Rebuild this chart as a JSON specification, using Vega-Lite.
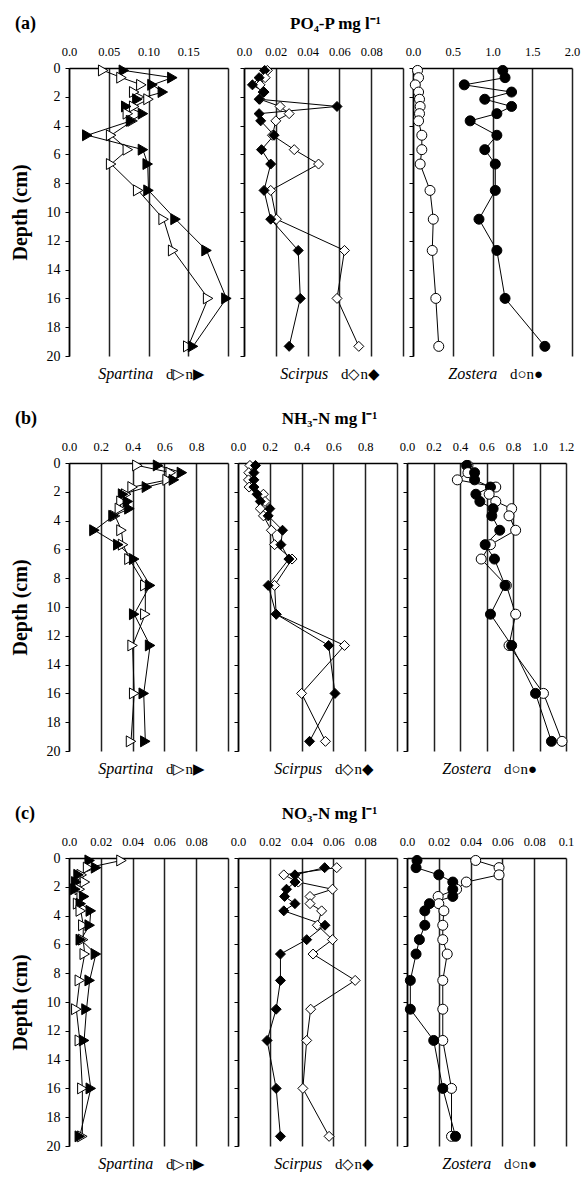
{
 "$schema": "https://vega.github.io/schema/vega-lite/v6.json",
 "background": "white",
 "padding": {"left": 10, "top": 15, "right": 3, "bottom": 0},
 "config": {
  "view": {"stroke": null},
  "font": "Liberation Serif",
  "axisX": {"grid": true, "gridColor": "#222", "gridWidth": 1.5, "domainColor": "black", "domainWidth": 1.5, "ticks": false, "labelPadding": 10, "labelFont": "Liberation Serif", "labelFontSize": 12.5, "labelColor": "black", "labelFlush": false, "labelOverlap": false},
  "axisY": {"grid": false, "domainColor": "black", "domainWidth": 1.5, "tickColor": "black", "tickSize": 4, "tickWidth": 1, "labelFont": "Liberation Serif", "labelFontSize": 14, "labelColor": "black", "labelPadding": 5, "titleFont": "Liberation Serif", "titleFontSize": 20, "titleFontWeight": "bold", "titleColor": "black", "titlePadding": 16, "labelFlush": false},
  "title": {"font": "Liberation Serif", "fontWeight": "bold", "color": "black", "offset": 12}
 },
 "datasets": {
  "all": [
   {"nut":"PO4","sp":"Spartina","depth":0.17,"d":0.043,"n":0.069},
   {"nut":"PO4","sp":"Spartina","depth":0.67,"d":0.066,"n":0.130},
   {"nut":"PO4","sp":"Spartina","depth":1.17,"d":0.091,"n":0.105},
   {"nut":"PO4","sp":"Spartina","depth":1.67,"d":0.082,"n":0.118},
   {"nut":"PO4","sp":"Spartina","depth":2.17,"d":0.100,"n":0.086},
   {"nut":"PO4","sp":"Spartina","depth":2.67,"d":0.082,"n":0.072},
   {"nut":"PO4","sp":"Spartina","depth":3.17,"d":0.074,"n":0.093},
   {"nut":"PO4","sp":"Spartina","depth":3.67,"d":0.080,"n":0.078},
   {"nut":"PO4","sp":"Spartina","depth":4.67,"d":0.053,"n":0.023},
   {"nut":"PO4","sp":"Spartina","depth":5.67,"d":0.074,"n":0.093},
   {"nut":"PO4","sp":"Spartina","depth":6.67,"d":0.053,"n":0.099},
   {"nut":"PO4","sp":"Spartina","depth":8.5,"d":0.087,"n":0.100},
   {"nut":"PO4","sp":"Spartina","depth":10.5,"d":0.119,"n":0.134},
   {"nut":"PO4","sp":"Spartina","depth":12.67,"d":0.131,"n":0.173},
   {"nut":"PO4","sp":"Spartina","depth":16,"d":0.175,"n":0.198},
   {"nut":"PO4","sp":"Spartina","depth":19.33,"d":0.150,"n":0.156},
   {"nut":"PO4","sp":"Scirpus","depth":0.17,"d":0.0147,"n":0.013},
   {"nut":"PO4","sp":"Scirpus","depth":0.67,"d":0.0133,"n":0.0095},
   {"nut":"PO4","sp":"Scirpus","depth":1.17,"d":0.0101,"n":0.0053},
   {"nut":"PO4","sp":"Scirpus","depth":1.67,"d":0.012,"n":0.0126},
   {"nut":"PO4","sp":"Scirpus","depth":2.17,"d":0.010,"n":0.0095},
   {"nut":"PO4","sp":"Scirpus","depth":2.67,"d":0.0227,"n":0.0585},
   {"nut":"PO4","sp":"Scirpus","depth":3.17,"d":0.0284,"n":0.0095},
   {"nut":"PO4","sp":"Scirpus","depth":3.67,"d":0.0200,"n":0.0105},
   {"nut":"PO4","sp":"Scirpus","depth":4.67,"d":0.0179,"n":0.0189},
   {"nut":"PO4","sp":"Scirpus","depth":5.67,"d":0.0316,"n":0.0110},
   {"nut":"PO4","sp":"Scirpus","depth":6.67,"d":0.0469,"n":0.0168},
   {"nut":"PO4","sp":"Scirpus","depth":8.5,"d":0.0168,"n":0.0126},
   {"nut":"PO4","sp":"Scirpus","depth":10.5,"d":0.0204,"n":0.0168},
   {"nut":"PO4","sp":"Scirpus","depth":12.67,"d":0.0632,"n":0.0341},
   {"nut":"PO4","sp":"Scirpus","depth":16,"d":0.0585,"n":0.0354},
   {"nut":"PO4","sp":"Scirpus","depth":19.33,"d":0.0722,"n":0.0284},
   {"nut":"PO4","sp":"Zostera","depth":0.17,"d":0.057,"n":1.129},
   {"nut":"PO4","sp":"Zostera","depth":0.67,"d":0.07,"n":1.158},
   {"nut":"PO4","sp":"Zostera","depth":1.17,"d":0.029,"n":0.645},
   {"nut":"PO4","sp":"Zostera","depth":1.67,"d":0.07,"n":1.24},
   {"nut":"PO4","sp":"Zostera","depth":2.17,"d":0.082,"n":0.903},
   {"nut":"PO4","sp":"Zostera","depth":2.67,"d":0.09,"n":1.24},
   {"nut":"PO4","sp":"Zostera","depth":3.17,"d":0.082,"n":1.055},
   {"nut":"PO4","sp":"Zostera","depth":3.67,"d":0.07,"n":0.719},
   {"nut":"PO4","sp":"Zostera","depth":4.67,"d":0.111,"n":1.055},
   {"nut":"PO4","sp":"Zostera","depth":5.67,"d":0.111,"n":0.903},
   {"nut":"PO4","sp":"Zostera","depth":6.67,"d":0.09,"n":1.035},
   {"nut":"PO4","sp":"Zostera","depth":8.5,"d":0.214,"n":1.035},
   {"nut":"PO4","sp":"Zostera","depth":10.5,"d":0.255,"n":0.83},
   {"nut":"PO4","sp":"Zostera","depth":12.67,"d":0.242,"n":1.055},
   {"nut":"PO4","sp":"Zostera","depth":16,"d":0.287,"n":1.158},
   {"nut":"PO4","sp":"Zostera","depth":19.33,"d":0.324,"n":1.659},
   {"nut":"NH3","sp":"Spartina","depth":0.17,"d":0.43,"n":0.56},
   {"nut":"NH3","sp":"Spartina","depth":0.67,"d":0.64,"n":0.71},
   {"nut":"NH3","sp":"Spartina","depth":1.17,"d":0.62,"n":0.66},
   {"nut":"NH3","sp":"Spartina","depth":1.67,"d":0.40,"n":0.49},
   {"nut":"NH3","sp":"Spartina","depth":2.17,"d":0.36,"n":0.34},
   {"nut":"NH3","sp":"Spartina","depth":2.67,"d":0.33,"n":0.37},
   {"nut":"NH3","sp":"Spartina","depth":3.17,"d":0.32,"n":0.38},
   {"nut":"NH3","sp":"Spartina","depth":3.67,"d":0.29,"n":0.28},
   {"nut":"NH3","sp":"Spartina","depth":4.67,"d":0.33,"n":0.16},
   {"nut":"NH3","sp":"Spartina","depth":5.67,"d":0.34,"n":0.31},
   {"nut":"NH3","sp":"Spartina","depth":6.67,"d":0.38,"n":0.41},
   {"nut":"NH3","sp":"Spartina","depth":8.5,"d":0.48,"n":0.51},
   {"nut":"NH3","sp":"Spartina","depth":10.5,"d":0.48,"n":0.41},
   {"nut":"NH3","sp":"Spartina","depth":12.67,"d":0.40,"n":0.51},
   {"nut":"NH3","sp":"Spartina","depth":16,"d":0.41,"n":0.47},
   {"nut":"NH3","sp":"Spartina","depth":19.33,"d":0.39,"n":0.48},
   {"nut":"NH3","sp":"Scirpus","depth":0.17,"d":0.075,"n":0.11},
   {"nut":"NH3","sp":"Scirpus","depth":0.67,"d":0.068,"n":0.10},
   {"nut":"NH3","sp":"Scirpus","depth":1.17,"d":0.066,"n":0.10},
   {"nut":"NH3","sp":"Scirpus","depth":1.67,"d":0.07,"n":0.10},
   {"nut":"NH3","sp":"Scirpus","depth":2.17,"d":0.16,"n":0.12},
   {"nut":"NH3","sp":"Scirpus","depth":2.67,"d":0.17,"n":0.14},
   {"nut":"NH3","sp":"Scirpus","depth":3.17,"d":0.14,"n":0.20},
   {"nut":"NH3","sp":"Scirpus","depth":3.67,"d":0.16,"n":0.19},
   {"nut":"NH3","sp":"Scirpus","depth":4.67,"d":0.21,"n":0.28},
   {"nut":"NH3","sp":"Scirpus","depth":5.67,"d":0.23,"n":0.27},
   {"nut":"NH3","sp":"Scirpus","depth":6.67,"d":0.34,"n":0.32},
   {"nut":"NH3","sp":"Scirpus","depth":8.5,"d":0.23,"n":0.19},
   {"nut":"NH3","sp":"Scirpus","depth":10.5,"d":0.24,"n":0.24},
   {"nut":"NH3","sp":"Scirpus","depth":12.67,"d":0.67,"n":0.57},
   {"nut":"NH3","sp":"Scirpus","depth":16,"d":0.40,"n":0.61},
   {"nut":"NH3","sp":"Scirpus","depth":19.33,"d":0.55,"n":0.45},
   {"nut":"NH3","sp":"Zostera","depth":0.17,"d":0.46,"n":0.45},
   {"nut":"NH3","sp":"Zostera","depth":0.67,"d":0.46,"n":0.51},
   {"nut":"NH3","sp":"Zostera","depth":1.17,"d":0.38,"n":0.51},
   {"nut":"NH3","sp":"Zostera","depth":1.67,"d":0.67,"n":0.63},
   {"nut":"NH3","sp":"Zostera","depth":2.17,"d":0.62,"n":0.52},
   {"nut":"NH3","sp":"Zostera","depth":2.67,"d":0.67,"n":0.55},
   {"nut":"NH3","sp":"Zostera","depth":3.17,"d":0.79,"n":0.65},
   {"nut":"NH3","sp":"Zostera","depth":3.67,"d":0.77,"n":0.64},
   {"nut":"NH3","sp":"Zostera","depth":4.67,"d":0.82,"n":0.70},
   {"nut":"NH3","sp":"Zostera","depth":5.67,"d":0.63,"n":0.59},
   {"nut":"NH3","sp":"Zostera","depth":6.67,"d":0.56,"n":0.66},
   {"nut":"NH3","sp":"Zostera","depth":8.5,"d":0.75,"n":0.74},
   {"nut":"NH3","sp":"Zostera","depth":10.5,"d":0.82,"n":0.63},
   {"nut":"NH3","sp":"Zostera","depth":12.67,"d":0.77,"n":0.79},
   {"nut":"NH3","sp":"Zostera","depth":16,"d":1.03,"n":0.97},
   {"nut":"NH3","sp":"Zostera","depth":19.33,"d":1.17,"n":1.09},
   {"nut":"NO3","sp":"Spartina","depth":0.17,"d":0.033,"n":0.013},
   {"nut":"NO3","sp":"Spartina","depth":0.67,"d":0.012,"n":0.017},
   {"nut":"NO3","sp":"Spartina","depth":1.17,"d":0.008,"n":0.006},
   {"nut":"NO3","sp":"Spartina","depth":1.67,"d":0.010,"n":0.0046},
   {"nut":"NO3","sp":"Spartina","depth":2.17,"d":0.0068,"n":0.004},
   {"nut":"NO3","sp":"Spartina","depth":2.67,"d":0.008,"n":0.0095},
   {"nut":"NO3","sp":"Spartina","depth":3.17,"d":0.0057,"n":0.0074},
   {"nut":"NO3","sp":"Spartina","depth":3.67,"d":0.0074,"n":0.0137},
   {"nut":"NO3","sp":"Spartina","depth":4.67,"d":0.009,"n":0.013},
   {"nut":"NO3","sp":"Spartina","depth":5.67,"d":0.0089,"n":0.0074},
   {"nut":"NO3","sp":"Spartina","depth":6.67,"d":0.0099,"n":0.0169},
   {"nut":"NO3","sp":"Spartina","depth":8.5,"d":0.0068,"n":0.013},
   {"nut":"NO3","sp":"Spartina","depth":10.5,"d":0.0046,"n":0.011},
   {"nut":"NO3","sp":"Spartina","depth":12.67,"d":0.0068,"n":0.0095},
   {"nut":"NO3","sp":"Spartina","depth":16,"d":0.0084,"n":0.0137},
   {"nut":"NO3","sp":"Spartina","depth":19.33,"d":0.0084,"n":0.0068},
   {"nut":"NO3","sp":"Scirpus","depth":0.67,"d":0.0621,"n":0.0545},
   {"nut":"NO3","sp":"Scirpus","depth":1.17,"d":0.0288,"n":0.0358},
   {"nut":"NO3","sp":"Scirpus","depth":1.67,"d":0.0379,"n":0.0358},
   {"nut":"NO3","sp":"Scirpus","depth":2.17,"d":0.0594,"n":0.0305},
   {"nut":"NO3","sp":"Scirpus","depth":2.67,"d":0.0453,"n":0.0293},
   {"nut":"NO3","sp":"Scirpus","depth":3.17,"d":0.0453,"n":0.0358},
   {"nut":"NO3","sp":"Scirpus","depth":3.67,"d":0.0526,"n":0.0288},
   {"nut":"NO3","sp":"Scirpus","depth":4.67,"d":0.0499,"n":0.0547},
   {"nut":"NO3","sp":"Scirpus","depth":5.67,"d":0.0594,"n":0.0432},
   {"nut":"NO3","sp":"Scirpus","depth":6.67,"d":0.0472,"n":0.0267},
   {"nut":"NO3","sp":"Scirpus","depth":8.5,"d":0.0737,"n":0.0267},
   {"nut":"NO3","sp":"Scirpus","depth":10.5,"d":0.0457,"n":0.024},
   {"nut":"NO3","sp":"Scirpus","depth":12.67,"d":0.0432,"n":0.0183},
   {"nut":"NO3","sp":"Scirpus","depth":16,"d":0.0408,"n":0.024},
   {"nut":"NO3","sp":"Scirpus","depth":19.33,"d":0.0573,"n":0.0267},
   {"nut":"NO3","sp":"Zostera","depth":0.17,"d":0.0432,"n":0.0063},
   {"nut":"NO3","sp":"Zostera","depth":0.67,"d":0.0579,"n":0.0057},
   {"nut":"NO3","sp":"Zostera","depth":1.17,"d":0.0579,"n":0.020},
   {"nut":"NO3","sp":"Zostera","depth":1.67,"d":0.0373,"n":0.0288},
   {"nut":"NO3","sp":"Zostera","depth":2.17,"d":0.0312,"n":0.0288},
   {"nut":"NO3","sp":"Zostera","depth":2.67,"d":0.0196,"n":0.0288},
   {"nut":"NO3","sp":"Zostera","depth":3.17,"d":0.020,"n":0.0141},
   {"nut":"NO3","sp":"Zostera","depth":3.67,"d":0.0232,"n":0.0112},
   {"nut":"NO3","sp":"Zostera","depth":4.67,"d":0.0225,"n":0.0112},
   {"nut":"NO3","sp":"Zostera","depth":5.67,"d":0.0225,"n":0.0078},
   {"nut":"NO3","sp":"Zostera","depth":6.67,"d":0.0253,"n":0.0057},
   {"nut":"NO3","sp":"Zostera","depth":8.5,"d":0.0225,"n":0.0021},
   {"nut":"NO3","sp":"Zostera","depth":10.5,"d":0.0225,"n":0.0021},
   {"nut":"NO3","sp":"Zostera","depth":12.67,"d":0.0225,"n":0.0168},
   {"nut":"NO3","sp":"Zostera","depth":16,"d":0.028,"n":0.0225},
   {"nut":"NO3","sp":"Zostera","depth":19.33,"d":0.028,"n":0.0305}
  ]
 },
 "data": {"name": "all"},
 "spacing": 28,
 "vconcat": [
  {"spacing": 2, "hconcat": [
   {"width": 159, "height": 288,
    "title": {"text": "(a)", "anchor": "start", "frame": "group", "dx": -54, "fontSize": 18},
    "resolve": {"axis": {"x": "independent", "y": "independent"}},
    "layer": [
     {"transform": [{"filter": "datum.nut=='PO4' && datum.sp=='Spartina'"}, {"fold": ["d","n"], "as": ["t","v"]}],
      "encoding": {
       "x": {"field": "v", "type": "quantitative", "scale": {"domain": [0,0.2], "nice": false}, "axis": {"orient": "top", "title": null, "values": [0,0.05,0.1,0.15,0.2], "labelExpr": "datum.value==0 ? '0.0' : datum.value>0.19 ? '' : format(datum.value,'.2f')"}},
       "y": {"field": "depth", "type": "quantitative", "scale": {"domain": [0,20], "reverse": true, "nice": false}, "axis": {"title": "Depth (cm)", "values": [0,2,4,6,8,10,12,14,16,18,20]}}
      },
      "layer": [
       {"mark": {"type": "line", "color": "black", "strokeWidth": 1}, "encoding": {"detail": {"field": "t"}, "order": {"field": "depth", "type": "quantitative"}}},
       {"mark": {"type": "point", "shape": "triangle-right", "size": 120, "filled": true, "stroke": "black", "strokeWidth": 1, "opacity": 1}, "encoding": {"fill": {"field": "t", "type": "nominal", "scale": {"domain": ["d","n"], "range": ["white","black"]}, "legend": null}}}
      ]},
     {"data": {"values": [{"lab": "Spartina"}]}, "mark": {"type": "text", "fontStyle": "italic", "fontSize": 16, "align": "right", "baseline": "middle"}, "encoding": {"x": {"datum": 0.106, "axis": null}, "y": {"datum": 21.25, "axis": null}, "text": {"field": "lab"}}},
     {"data": {"values": [{"lab": "d▷n▶"}]}, "mark": {"type": "text", "fontSize": 15, "align": "left", "baseline": "middle"}, "encoding": {"x": {"datum": 0.122, "axis": null}, "y": {"datum": 21.25, "axis": null}, "text": {"field": "lab"}}}
    ]},
   {"width": 159, "height": 288,
    "title": {"text": "PO₄-P mg l⁻¹", "anchor": "middle", "dx": 12, "fontSize": 17},
    "resolve": {"axis": {"x": "independent", "y": "independent"}},
    "layer": [
     {"transform": [{"filter": "datum.nut=='PO4' && datum.sp=='Scirpus'"}, {"fold": ["d","n"], "as": ["t","v"]}],
      "encoding": {
       "x": {"field": "v", "type": "quantitative", "scale": {"domain": [0,0.1], "nice": false}, "axis": {"orient": "top", "title": null, "values": [0,0.02,0.04,0.06,0.08,0.1], "labelExpr": "datum.value==0 ? '0.0' : datum.value>0.09 ? '' : format(datum.value,'.2f')"}},
       "y": {"field": "depth", "type": "quantitative", "scale": {"domain": [0,20], "reverse": true, "nice": false}, "axis": {"title": null, "labels": false, "values": [0,2,4,6,8,10,12,14,16,18,20]}}
      },
      "layer": [
       {"mark": {"type": "line", "color": "black", "strokeWidth": 1}, "encoding": {"detail": {"field": "t"}, "order": {"field": "depth", "type": "quantitative"}}},
       {"mark": {"type": "point", "shape": "diamond", "size": 100, "filled": true, "stroke": "black", "strokeWidth": 1, "opacity": 1}, "encoding": {"fill": {"field": "t", "type": "nominal", "scale": {"domain": ["d","n"], "range": ["white","black"]}, "legend": null}}}
      ]},
     {"data": {"values": [{"lab": "Scirpus"}]}, "mark": {"type": "text", "fontStyle": "italic", "fontSize": 16, "align": "right", "baseline": "middle"}, "encoding": {"x": {"datum": 0.053, "axis": null}, "y": {"datum": 21.25, "axis": null}, "text": {"field": "lab"}}},
     {"data": {"values": [{"lab": "d◇n◆"}]}, "mark": {"type": "text", "fontSize": 15, "align": "left", "baseline": "middle"}, "encoding": {"x": {"datum": 0.061, "axis": null}, "y": {"datum": 21.25, "axis": null}, "text": {"field": "lab"}}}
    ]},
   {"width": 159, "height": 288,
    "resolve": {"axis": {"x": "independent", "y": "independent"}},
    "layer": [
     {"transform": [{"filter": "datum.nut=='PO4' && datum.sp=='Zostera'"}, {"fold": ["d","n"], "as": ["t","v"]}],
      "encoding": {
       "x": {"field": "v", "type": "quantitative", "scale": {"domain": [0,2], "nice": false}, "axis": {"orient": "top", "title": null, "values": [0,0.5,1,1.5,2], "labelExpr": "format(datum.value,'.1f')"}},
       "y": {"field": "depth", "type": "quantitative", "scale": {"domain": [0,20], "reverse": true, "nice": false}, "axis": {"title": null, "labels": false, "values": [0,2,4,6,8,10,12,14,16,18,20]}}
      },
      "layer": [
       {"mark": {"type": "line", "color": "black", "strokeWidth": 1}, "encoding": {"detail": {"field": "t"}, "order": {"field": "depth", "type": "quantitative"}}},
       {"mark": {"type": "point", "shape": "circle", "size": 100, "filled": true, "stroke": "black", "strokeWidth": 1, "opacity": 1}, "encoding": {"fill": {"field": "t", "type": "nominal", "scale": {"domain": ["d","n"], "range": ["white","black"]}, "legend": null}}}
      ]},
     {"data": {"values": [{"lab": "Zostera"}]}, "mark": {"type": "text", "fontStyle": "italic", "fontSize": 16, "align": "right", "baseline": "middle"}, "encoding": {"x": {"datum": 1.06, "axis": null}, "y": {"datum": 21.25, "axis": null}, "text": {"field": "lab"}}},
     {"data": {"values": [{"lab": "d○n●"}]}, "mark": {"type": "text", "fontSize": 15, "align": "left", "baseline": "middle"}, "encoding": {"x": {"datum": 1.22, "axis": null}, "y": {"datum": 21.25, "axis": null}, "text": {"field": "lab"}}}
    ]}
  ]},
  {"spacing": 2, "hconcat": [
   {"width": 159, "height": 288,
    "title": {"text": "(b)", "anchor": "start", "frame": "group", "dx": -54, "fontSize": 18},
    "resolve": {"axis": {"x": "independent", "y": "independent"}},
    "layer": [
     {"transform": [{"filter": "datum.nut=='NH3' && datum.sp=='Spartina'"}, {"fold": ["d","n"], "as": ["t","v"]}],
      "encoding": {
       "x": {"field": "v", "type": "quantitative", "scale": {"domain": [0,1], "nice": false}, "axis": {"orient": "top", "title": null, "values": [0,0.2,0.4,0.6,0.8,1], "labelExpr": "datum.value>0.9 ? '' : format(datum.value,'.1f')"}},
       "y": {"field": "depth", "type": "quantitative", "scale": {"domain": [0,20], "reverse": true, "nice": false}, "axis": {"title": "Depth (cm)", "values": [0,2,4,6,8,10,12,14,16,18,20]}}
      },
      "layer": [
       {"mark": {"type": "line", "color": "black", "strokeWidth": 1}, "encoding": {"detail": {"field": "t"}, "order": {"field": "depth", "type": "quantitative"}}},
       {"mark": {"type": "point", "shape": "triangle-right", "size": 120, "filled": true, "stroke": "black", "strokeWidth": 1, "opacity": 1}, "encoding": {"fill": {"field": "t", "type": "nominal", "scale": {"domain": ["d","n"], "range": ["white","black"]}, "legend": null}}}
      ]},
     {"data": {"values": [{"lab": "Spartina"}]}, "mark": {"type": "text", "fontStyle": "italic", "fontSize": 16, "align": "right", "baseline": "middle"}, "encoding": {"x": {"datum": 0.53, "axis": null}, "y": {"datum": 21.25, "axis": null}, "text": {"field": "lab"}}},
     {"data": {"values": [{"lab": "d▷n▶"}]}, "mark": {"type": "text", "fontSize": 15, "align": "left", "baseline": "middle"}, "encoding": {"x": {"datum": 0.61, "axis": null}, "y": {"datum": 21.25, "axis": null}, "text": {"field": "lab"}}}
    ]},
   {"width": 159, "height": 288,
    "title": {"text": "NH₃-N mg l⁻¹", "anchor": "middle", "dx": 12, "fontSize": 17},
    "resolve": {"axis": {"x": "independent", "y": "independent"}},
    "layer": [
     {"transform": [{"filter": "datum.nut=='NH3' && datum.sp=='Scirpus'"}, {"fold": ["d","n"], "as": ["t","v"]}],
      "encoding": {
       "x": {"field": "v", "type": "quantitative", "scale": {"domain": [0,1], "nice": false}, "axis": {"orient": "top", "title": null, "values": [0,0.2,0.4,0.6,0.8,1], "labelExpr": "datum.value>0.9 ? '' : format(datum.value,'.1f')"}},
       "y": {"field": "depth", "type": "quantitative", "scale": {"domain": [0,20], "reverse": true, "nice": false}, "axis": {"title": null, "labels": false, "values": [0,2,4,6,8,10,12,14,16,18,20]}}
      },
      "layer": [
       {"mark": {"type": "line", "color": "black", "strokeWidth": 1}, "encoding": {"detail": {"field": "t"}, "order": {"field": "depth", "type": "quantitative"}}},
       {"mark": {"type": "point", "shape": "diamond", "size": 100, "filled": true, "stroke": "black", "strokeWidth": 1, "opacity": 1}, "encoding": {"fill": {"field": "t", "type": "nominal", "scale": {"domain": ["d","n"], "range": ["white","black"]}, "legend": null}}}
      ]},
     {"data": {"values": [{"lab": "Scirpus"}]}, "mark": {"type": "text", "fontStyle": "italic", "fontSize": 16, "align": "right", "baseline": "middle"}, "encoding": {"x": {"datum": 0.53, "axis": null}, "y": {"datum": 21.25, "axis": null}, "text": {"field": "lab"}}},
     {"data": {"values": [{"lab": "d◇n◆"}]}, "mark": {"type": "text", "fontSize": 15, "align": "left", "baseline": "middle"}, "encoding": {"x": {"datum": 0.61, "axis": null}, "y": {"datum": 21.25, "axis": null}, "text": {"field": "lab"}}}
    ]},
   {"width": 159, "height": 288,
    "resolve": {"axis": {"x": "independent", "y": "independent"}},
    "layer": [
     {"transform": [{"filter": "datum.nut=='NH3' && datum.sp=='Zostera'"}, {"fold": ["d","n"], "as": ["t","v"]}],
      "encoding": {
       "x": {"field": "v", "type": "quantitative", "scale": {"domain": [0,1.2], "nice": false}, "axis": {"orient": "top", "title": null, "values": [0,0.2,0.4,0.6,0.8,1,1.2], "labelExpr": "format(datum.value,'.1f')"}},
       "y": {"field": "depth", "type": "quantitative", "scale": {"domain": [0,20], "reverse": true, "nice": false}, "axis": {"title": null, "labels": false, "values": [0,2,4,6,8,10,12,14,16,18,20]}}
      },
      "layer": [
       {"mark": {"type": "line", "color": "black", "strokeWidth": 1}, "encoding": {"detail": {"field": "t"}, "order": {"field": "depth", "type": "quantitative"}}},
       {"mark": {"type": "point", "shape": "circle", "size": 100, "filled": true, "stroke": "black", "strokeWidth": 1, "opacity": 1}, "encoding": {"fill": {"field": "t", "type": "nominal", "scale": {"domain": ["d","n"], "range": ["white","black"]}, "legend": null}}}
      ]},
     {"data": {"values": [{"lab": "Zostera"}]}, "mark": {"type": "text", "fontStyle": "italic", "fontSize": 16, "align": "right", "baseline": "middle"}, "encoding": {"x": {"datum": 0.636, "axis": null}, "y": {"datum": 21.25, "axis": null}, "text": {"field": "lab"}}},
     {"data": {"values": [{"lab": "d○n●"}]}, "mark": {"type": "text", "fontSize": 15, "align": "left", "baseline": "middle"}, "encoding": {"x": {"datum": 0.732, "axis": null}, "y": {"datum": 21.25, "axis": null}, "text": {"field": "lab"}}}
    ]}
  ]},
  {"spacing": 2, "hconcat": [
   {"width": 159, "height": 288,
    "title": {"text": "(c)", "anchor": "start", "frame": "group", "dx": -54, "fontSize": 18},
    "resolve": {"axis": {"x": "independent", "y": "independent"}},
    "layer": [
     {"transform": [{"filter": "datum.nut=='NO3' && datum.sp=='Spartina'"}, {"fold": ["d","n"], "as": ["t","v"]}],
      "encoding": {
       "x": {"field": "v", "type": "quantitative", "scale": {"domain": [0,0.1], "nice": false}, "axis": {"orient": "top", "title": null, "values": [0,0.02,0.04,0.06,0.08,0.1], "labelExpr": "datum.value==0 ? '0.0' : datum.value>0.09 ? '' : format(datum.value,'.2f')"}},
       "y": {"field": "depth", "type": "quantitative", "scale": {"domain": [0,20], "reverse": true, "nice": false}, "axis": {"title": "Depth (cm)", "values": [0,2,4,6,8,10,12,14,16,18,20]}}
      },
      "layer": [
       {"mark": {"type": "line", "color": "black", "strokeWidth": 1}, "encoding": {"detail": {"field": "t"}, "order": {"field": "depth", "type": "quantitative"}}},
       {"mark": {"type": "point", "shape": "triangle-right", "size": 120, "filled": true, "stroke": "black", "strokeWidth": 1, "opacity": 1}, "encoding": {"fill": {"field": "t", "type": "nominal", "scale": {"domain": ["d","n"], "range": ["white","black"]}, "legend": null}}}
      ]},
     {"data": {"values": [{"lab": "Spartina"}]}, "mark": {"type": "text", "fontStyle": "italic", "fontSize": 16, "align": "right", "baseline": "middle"}, "encoding": {"x": {"datum": 0.053, "axis": null}, "y": {"datum": 21.25, "axis": null}, "text": {"field": "lab"}}},
     {"data": {"values": [{"lab": "d▷n▶"}]}, "mark": {"type": "text", "fontSize": 15, "align": "left", "baseline": "middle"}, "encoding": {"x": {"datum": 0.061, "axis": null}, "y": {"datum": 21.25, "axis": null}, "text": {"field": "lab"}}}
    ]},
   {"width": 159, "height": 288,
    "title": {"text": "NO₃-N mg l⁻¹", "anchor": "middle", "dx": 12, "fontSize": 17},
    "resolve": {"axis": {"x": "independent", "y": "independent"}},
    "layer": [
     {"transform": [{"filter": "datum.nut=='NO3' && datum.sp=='Scirpus'"}, {"fold": ["d","n"], "as": ["t","v"]}],
      "encoding": {
       "x": {"field": "v", "type": "quantitative", "scale": {"domain": [0,0.1], "nice": false}, "axis": {"orient": "top", "title": null, "values": [0,0.02,0.04,0.06,0.08,0.1], "labelExpr": "datum.value==0 ? '0.0' : datum.value>0.09 ? '' : format(datum.value,'.2f')"}},
       "y": {"field": "depth", "type": "quantitative", "scale": {"domain": [0,20], "reverse": true, "nice": false}, "axis": {"title": null, "labels": false, "values": [0,2,4,6,8,10,12,14,16,18,20]}}
      },
      "layer": [
       {"mark": {"type": "line", "color": "black", "strokeWidth": 1}, "encoding": {"detail": {"field": "t"}, "order": {"field": "depth", "type": "quantitative"}}},
       {"mark": {"type": "point", "shape": "diamond", "size": 100, "filled": true, "stroke": "black", "strokeWidth": 1, "opacity": 1}, "encoding": {"fill": {"field": "t", "type": "nominal", "scale": {"domain": ["d","n"], "range": ["white","black"]}, "legend": null}}}
      ]},
     {"data": {"values": [{"lab": "Scirpus"}]}, "mark": {"type": "text", "fontStyle": "italic", "fontSize": 16, "align": "right", "baseline": "middle"}, "encoding": {"x": {"datum": 0.053, "axis": null}, "y": {"datum": 21.25, "axis": null}, "text": {"field": "lab"}}},
     {"data": {"values": [{"lab": "d◇n◆"}]}, "mark": {"type": "text", "fontSize": 15, "align": "left", "baseline": "middle"}, "encoding": {"x": {"datum": 0.061, "axis": null}, "y": {"datum": 21.25, "axis": null}, "text": {"field": "lab"}}}
    ]},
   {"width": 159, "height": 288,
    "resolve": {"axis": {"x": "independent", "y": "independent"}},
    "layer": [
     {"transform": [{"filter": "datum.nut=='NO3' && datum.sp=='Zostera'"}, {"fold": ["d","n"], "as": ["t","v"]}],
      "encoding": {
       "x": {"field": "v", "type": "quantitative", "scale": {"domain": [0,0.1], "nice": false}, "axis": {"orient": "top", "title": null, "values": [0,0.02,0.04,0.06,0.08,0.1], "labelExpr": "datum.value==0 ? '0.0' : datum.value>0.09 ? '0.1' : format(datum.value,'.2f')"}},
       "y": {"field": "depth", "type": "quantitative", "scale": {"domain": [0,20], "reverse": true, "nice": false}, "axis": {"title": null, "labels": false, "values": [0,2,4,6,8,10,12,14,16,18,20]}}
      },
      "layer": [
       {"mark": {"type": "line", "color": "black", "strokeWidth": 1}, "encoding": {"detail": {"field": "t"}, "order": {"field": "depth", "type": "quantitative"}}},
       {"mark": {"type": "point", "shape": "circle", "size": 100, "filled": true, "stroke": "black", "strokeWidth": 1, "opacity": 1}, "encoding": {"fill": {"field": "t", "type": "nominal", "scale": {"domain": ["d","n"], "range": ["white","black"]}, "legend": null}}}
      ]},
     {"data": {"values": [{"lab": "Zostera"}]}, "mark": {"type": "text", "fontStyle": "italic", "fontSize": 16, "align": "right", "baseline": "middle"}, "encoding": {"x": {"datum": 0.053, "axis": null}, "y": {"datum": 21.25, "axis": null}, "text": {"field": "lab"}}},
     {"data": {"values": [{"lab": "d○n●"}]}, "mark": {"type": "text", "fontSize": 15, "align": "left", "baseline": "middle"}, "encoding": {"x": {"datum": 0.061, "axis": null}, "y": {"datum": 21.25, "axis": null}, "text": {"field": "lab"}}}
    ]}
  ]}
 ]
}
